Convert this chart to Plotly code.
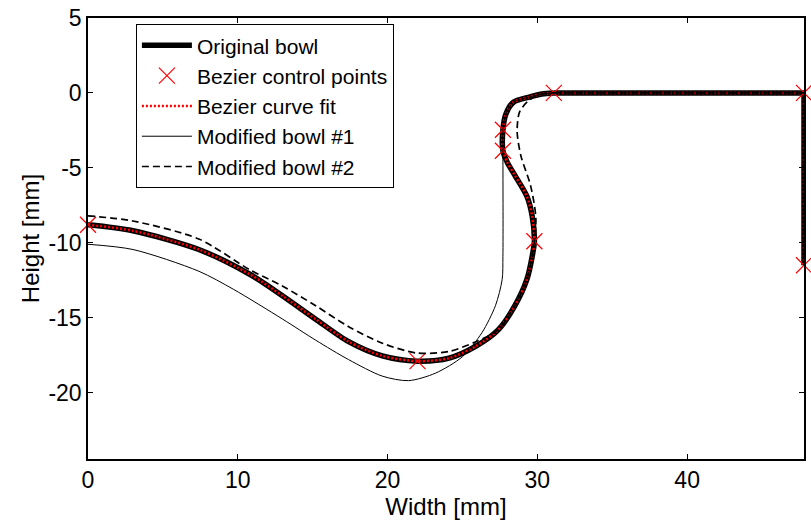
import plotly.graph_objects as go

# ---- data ----
orig_x = [0, 3.0, 7.4, 10.8, 13.0, 15.2, 17.4, 19.65, 22.0, 24.1, 25.9, 27.4, 28.5, 29.3, 29.7, 29.8,
          29.65, 29.3, 28.5, 28.0, 27.7, 27.7, 27.9, 28.4, 29.4, 30.3, 31.1]
orig_y = [-8.8, -9.2, -10.45, -12.1, -13.55, -15.1, -16.6, -17.55, -17.9, -17.7, -16.9, -15.8, -14.2, -12.45,
          -10.65, -9.9, -8.2, -6.9, -5.5, -4.65, -3.86, -2.46, -1.4, -0.62, -0.29, -0.07, 0]

flat_x = [31.1, 47.8, 47.8]
flat_y = [0, 0, -11.5]

cp_x = [0, 22.0, 29.8, 27.7, 27.7, 31.1, 47.8, 47.8]
cp_y = [-8.8, -17.9, -9.9, -3.86, -2.46, 0, 0, -11.5]

m1_x = [0, 3.0, 7.4, 9.7, 13.0, 15.2, 17.4, 19.65, 21.4, 23.2, 25.0, 26.3, 27.2, 27.65, 27.7, 27.7,
        27.7, 27.9, 28.4, 29.4, 30.3, 31.1]
m1_y = [-10.1, -10.45, -11.9, -13.1, -15.1, -16.5, -17.8, -18.9, -19.2, -18.7, -17.6, -16.0, -14.2, -12.45,
        -10.9, -3.86, -2.46, -1.4, -0.62, -0.29, -0.07, 0]

m2_x = [0, 3.0, 7.4, 10.8, 13.0, 15.2, 17.4, 19.65, 21.9, 24.1, 25.9, 27.4, 28.5, 29.3, 29.7, 29.9,
        29.55, 28.9, 28.65, 28.8, 29.3, 30.0, 31.1]
m2_y = [-8.2, -8.55, -9.75, -11.8, -12.9, -14.2, -15.6, -16.7, -17.35, -17.25, -16.6, -15.8, -14.2, -12.45,
        -10.65, -8.4, -6.2, -4.2, -2.6, -1.3, -0.62, -0.15, 0]

x_ticks = [0, 10, 20, 30, 40]
x_ticktext = ["0", "10", "20", "30", "40"]
y_ticks = [-20, -15, -10, -5, 0, 5]
y_ticktext = ["-20", "-15", "-10", "-5", "0", "5"]

names = ["Original bowl", "Bezier control points", "Bezier curve fit", "Modified bowl #1", "Modified bowl #2"]

FONT = "Liberation Sans, Arial, sans-serif"

fig = go.Figure()

styles = {
    "orig": dict(color="black", width=5.5),
    "fit": dict(color="red", width=2.5, dash="2px,2px"),
    "m1": dict(color="black", width=1),
    "m2": dict(color="black", width=1.7, dash="7px,4px"),
}

def add_series(xs, ys, style, name, group, rank):
    fig.add_trace(go.Scatter(x=xs, y=ys, mode="lines", line=dict(**style, shape="spline", smoothing=0.8),
                             name=name, legendgroup=group, legendrank=rank, showlegend=True))
    fig.add_trace(go.Scatter(x=flat_x, y=flat_y, mode="lines", line=dict(**style),
                             name=name, legendgroup=group, showlegend=False, hoverinfo="skip"))

add_series(orig_x, orig_y, styles["orig"], names[0], "g0", 1)
fig.add_trace(go.Scatter(x=cp_x, y=cp_y, mode="markers", name=names[1], legendrank=2,
                         marker=dict(symbol="x-thin", size=16, line=dict(color="red", width=1.2)),
                         cliponaxis=False))
add_series(orig_x, orig_y, styles["fit"], names[2], "g2", 3)
add_series(m1_x, m1_y, styles["m1"], names[3], "g3", 4)
add_series(m2_x, m2_y, styles["m2"], names[4], "g4", 5)

axis_common = dict(showline=True, linecolor="black", linewidth=1.5, mirror="ticks",
                   ticks="inside", ticklen=5, tickwidth=1, tickcolor="black",
                   showgrid=False, zeroline=False,
                   tickfont=dict(family=FONT, size=23, color="black"))

fig.update_layout(
    width=811, height=523,
    margin=dict(l=88, r=5, t=18, b=64),
    paper_bgcolor="white", plot_bgcolor="white",
    font=dict(family=FONT, size=23, color="black"),
    xaxis=dict(range=[0, 47.8], tickvals=x_ticks, ticktext=x_ticktext,
               title=dict(text="Width [mm]", font=dict(family=FONT, size=24, color="black"), standoff=2),
               **axis_common),
    yaxis=dict(range=[-24.43, 5], tickvals=y_ticks, ticktext=y_ticktext,
               title=dict(text="Height [mm]", font=dict(family=FONT, size=24, color="black"), standoff=2),
               **axis_common),
    legend=dict(x=0.0669, y=0.986, xanchor="left", yanchor="top",
                bgcolor="white", bordercolor="black", borderwidth=1,
                font=dict(family=FONT, size=21, color="black"),
                tracegroupgap=0, itemwidth=50),
    showlegend=True,
)

fig.write_html("out.html")
